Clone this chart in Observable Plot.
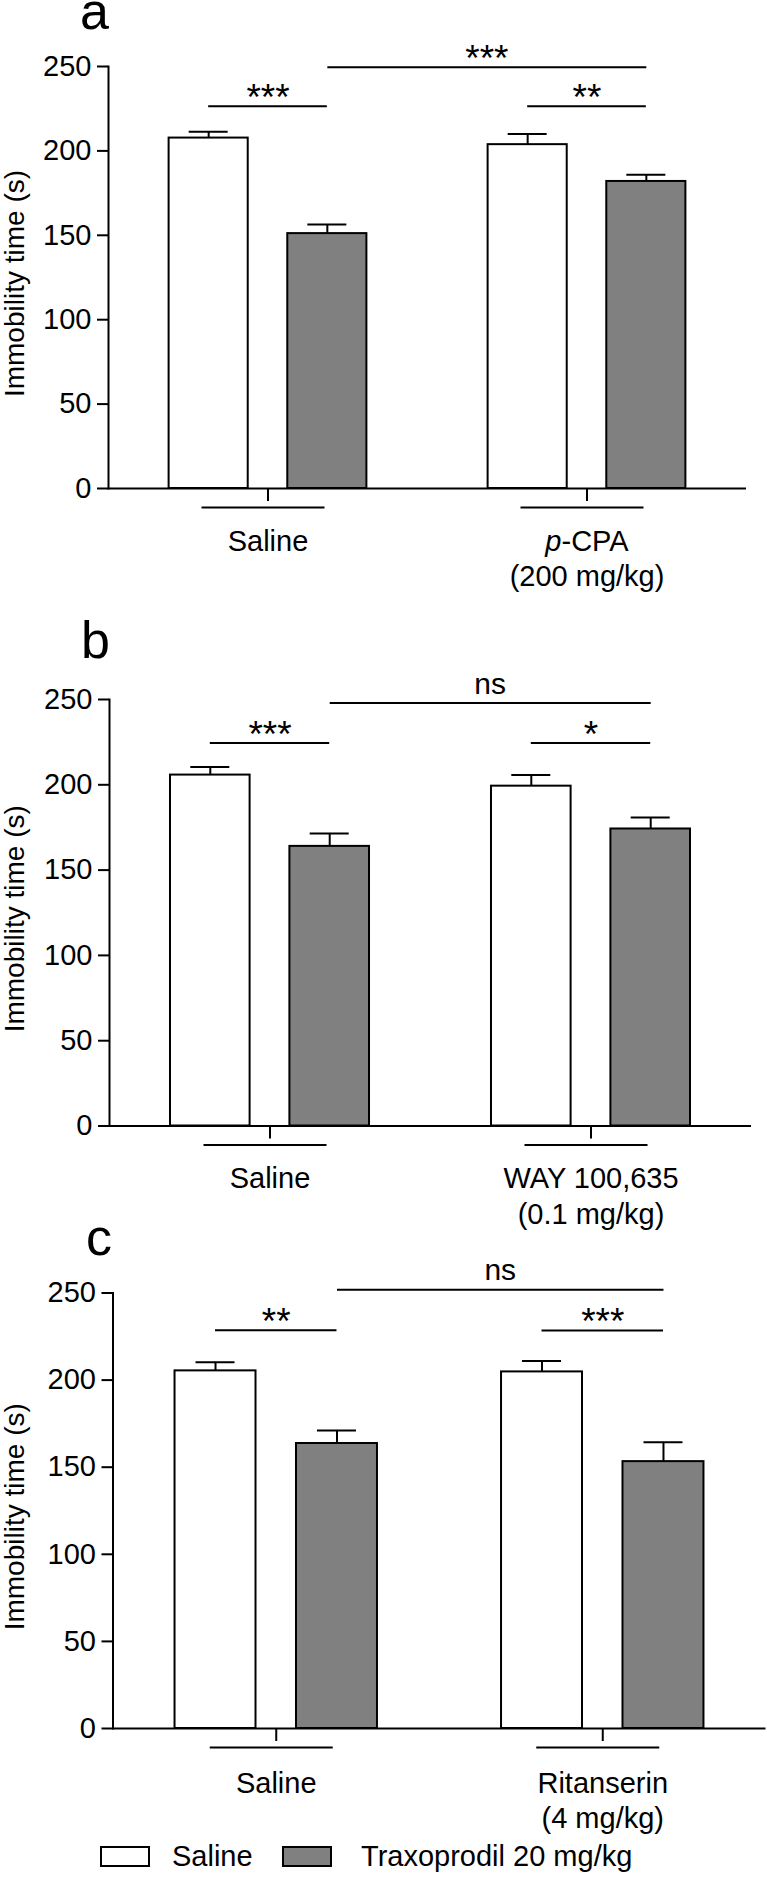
<!DOCTYPE html>
<html>
<head>
<meta charset="utf-8">
<script src="https://cdn.jsdelivr.net/npm/d3@7"></script>
<script src="https://cdn.jsdelivr.net/npm/@observablehq/plot@0.6"></script>
<style>
  html, body { margin: 0; padding: 0; background: #fff; }
  body { font-family: "Liberation Sans", Arial, sans-serif; color: #000; }
  #root { position: relative; width: 767px; height: 1884px; overflow: hidden; background: #fff; }
  .panel { position: absolute; left: 0; }
  .panel svg { display: block; overflow: visible; }
  .letter { position: absolute; font-size: 52px; line-height: 22px; }
  .legend-item { position: absolute; font-size: 29px; line-height: 29px; white-space: nowrap; }
  .swatch { position: absolute; box-sizing: border-box; width: 50px; height: 21px; border: 2px solid #000; }
</style>
</head>
<body>
<div id="root"></div>
<script>
// ---------------- data ----------------
const treatments = ["Saline", "Traxoprodil 20 mg/kg"];
const panelLetters = ["a", "b", "c"];
const yTicks = [0, 50, 100, 150, 200, 250];
const yLabel = "Immobility time (s)";

// panel a
const groupsA = ["Saline", "p-CPA\n(200 mg/kg)"];
const salineMeanA = [207.6, 203.7];
const salineSemA = [3.8, 6.3];
const traxMeanA = [151.0, 181.9];
const traxSemA = [5.4, 4.0];
const sigLabelsA = ["***", "**", "***"];   // group 1, group 2, between Traxoprodil bars
const sigLevelsA = [226.4, 226.4, 249.5];

// panel b
const groupsB = ["Saline", "WAY 100,635\n(0.1 mg/kg)"];
const salineMeanB = [205.7, 199.2];
const salineSemB = [4.8, 6.5];
const traxMeanB = [163.9, 174.1];
const traxSemB = [7.6, 6.7];
const sigLabelsB = ["***", "*", "ns"];
const sigLevelsB = [224.5, 224.5, 247.9];

// panel c
const groupsC = ["Saline", "Ritanserin\n(4 mg/kg)"];
const salineMeanC = [205.3, 204.7];
const salineSemC = [4.9, 6.3];
const traxMeanC = [163.6, 153.2];
const traxSemC = [7.5, 11.1];
const sigLabelsC = ["**", "***", "ns"];
const sigLevelsC = [228.6, 228.5, 251.9];

// ---------------- layout ----------------
const W = 767;
const layouts = [
  {top: 0,    height: 600, marginTop: 66,   marginBottom: 112,  marginLeft: 108,   marginRight: 21,  letterTop: 0,    letterLeft: 80, labelDy: 37.6},
  {top: 600,  height: 620, marginTop: 99,   marginBottom: 94.5, marginLeft: 109,   marginRight: 16,  letterTop: 629,  letterLeft: 81, labelDy: 37.5},
  {top: 1220, height: 610, marginTop: 72.5, marginBottom: 102,  marginLeft: 112.5, marginRight: 1.5, letterTop: 1226, letterLeft: 86, labelDy: 39.6}
];
const FONT = "'Liberation Sans', Arial, sans-serif";
const GRAY = "#808080";
const SW = 2;

function makePanel(groups, sMean, sSem, tMean, tSem, sigLabels, sigLevels, L) {
  const bw = (W - L.marginLeft - L.marginRight) / groups.length;
  const sal = groups.map((g, i) => ({group: g, treatment: treatments[0], mean: sMean[i], sem: sSem[i]}));
  const trx = groups.map((g, i) => ({group: g, treatment: treatments[1], mean: tMean[i], sem: tSem[i]}));
  const outer = 0.19 * bw, inner = 0.562 * bw;     // bar insets inside a group band
  const off = 0.186 * bw;                           // bar centre offset from group centre
  const capHalf = 19.5;
  const within = groups.map((g, i) => ({group: g, y: sigLevels[i], label: sigLabels[i]}));
  const across = [{g1: groups[0], g2: groups[1], y: sigLevels[2], label: sigLabels[2]}];
  const isStars = (s) => s.includes("*");
  const sigText = (data, opts) => [
    Plot.text(data.filter(d => isStars(d.label)), {...opts, text: "label", fontSize: 37, lineAnchor: "bottom", dy: 3.5}),
    Plot.text(data.filter(d => !isStars(d.label)), {...opts, text: "label", fontSize: 30, lineAnchor: "bottom", dy: -9.5})
  ];

  return Plot.plot({
    width: W,
    height: L.height,
    marginTop: L.marginTop,
    marginBottom: L.marginBottom,
    marginLeft: L.marginLeft,
    marginRight: L.marginRight,
    style: {fontFamily: FONT, fontSize: "29px", color: "#000", background: "transparent", overflow: "visible"},
    x: {type: "band", domain: groups, padding: 0, round: false, axis: null},
    y: {domain: [0, 250], axis: null},
    marks: [
      Plot.barY(sal, {x: "group", y: "mean", fill: "#fff", stroke: "#000", strokeWidth: SW, insetLeft: outer, insetRight: inner}),
      Plot.barY(trx, {x: "group", y: "mean", fill: GRAY, stroke: "#000", strokeWidth: SW, insetLeft: inner, insetRight: outer}),
      Plot.ruleX(sal, {x: "group", y1: "mean", y2: d => d.mean + d.sem, dx: -off, strokeWidth: SW}),
      Plot.ruleX(trx, {x: "group", y1: "mean", y2: d => d.mean + d.sem, dx: off, strokeWidth: SW}),
      Plot.tickY(sal, {x: "group", y: d => d.mean + d.sem, insetLeft: 0.314 * bw - capHalf, insetRight: 0.686 * bw - capHalf, strokeWidth: SW}),
      Plot.tickY(trx, {x: "group", y: d => d.mean + d.sem, insetLeft: 0.686 * bw - capHalf, insetRight: 0.314 * bw - capHalf, strokeWidth: SW}),
      // significance brackets
      Plot.tickY(within, {x: "group", y: "y", insetLeft: 0.314 * bw, insetRight: 0.314 * bw, strokeWidth: SW}),
      Plot.link(across, {x1: "g1", x2: "g2", y1: "y", y2: "y", dx: off, strokeWidth: SW}),
      ...sigText(within, {x: "group", y: "y"}),
      ...sigText(across, {x: "g1", y: "y", dx: off + bw / 2}),
      // axes
      Plot.ruleY([0], {strokeWidth: SW}),
      Plot.frame({anchor: "left", strokeWidth: SW}),
      Plot.axisY({ticks: yTicks, tickSize: 11, tickPadding: 6, label: null, strokeWidth: SW}),
      Plot.axisX({tickSize: 13, tickFormat: () => "", label: null, strokeWidth: SW}),
      Plot.tickY(groups, {x: d => d, y: () => 0, dy: 19, insetLeft: 0.5 * bw - 66, insetRight: 0.5 * bw - 57, strokeWidth: SW}),
      Plot.text(groups, {x: d => d, text: d => d, frameAnchor: "bottom", lineAnchor: "top", dy: L.labelDy, lineHeight: 1.21}),
      Plot.text([yLabel], {text: d => d, frameAnchor: "left", textAnchor: "middle", rotate: -90, fontSize: 28, dx: 14.5 - L.marginLeft, dy: 6})
    ]
  });
}

const root = document.getElementById("root");
const panelsData = [
  [groupsA, salineMeanA, salineSemA, traxMeanA, traxSemA, sigLabelsA, sigLevelsA],
  [groupsB, salineMeanB, salineSemB, traxMeanB, traxSemB, sigLabelsB, sigLevelsB],
  [groupsC, salineMeanC, salineSemC, traxMeanC, traxSemC, sigLabelsC, sigLevelsC]
];
panelsData.forEach((args, k) => {
  const L = layouts[k];
  const div = document.createElement("div");
  div.className = "panel";
  div.style.top = L.top + "px";
  const svg = makePanel(...args, L);
  // italic "p" in p-CPA
  d3.select(svg).selectAll("tspan, text").each(function () {
    if (this.childNodes.length === 1 && this.firstChild.nodeType === 3 && this.textContent === "p-CPA") {
      const sel = d3.select(this);
      sel.text("");
      sel.append("tspan").attr("font-style", "italic").text("p");
      sel.append("tspan").text("-CPA");
    }
  });
  div.appendChild(svg);
  root.appendChild(div);
  const letter = document.createElement("div");
  letter.className = "letter";
  letter.style.top = L.letterTop + "px";
  letter.style.left = L.letterLeft + "px";
  letter.textContent = panelLetters[k];
  root.appendChild(letter);
});

// legend
const legendItems = [
  {left: 100, fill: "#fff", textLeft: 172},
  {left: 282, fill: GRAY, textLeft: 361}
];
treatments.forEach((t, i) => {
  const it = legendItems[i];
  const sw = document.createElement("div");
  sw.className = "swatch";
  sw.style.left = it.left + "px";
  sw.style.top = "1846px";
  sw.style.background = it.fill;
  root.appendChild(sw);
  const tx = document.createElement("div");
  tx.className = "legend-item";
  tx.style.left = it.textLeft + "px";
  tx.style.top = "1842px";
  tx.textContent = t;
  root.appendChild(tx);
});
</script>
</body>
</html>
